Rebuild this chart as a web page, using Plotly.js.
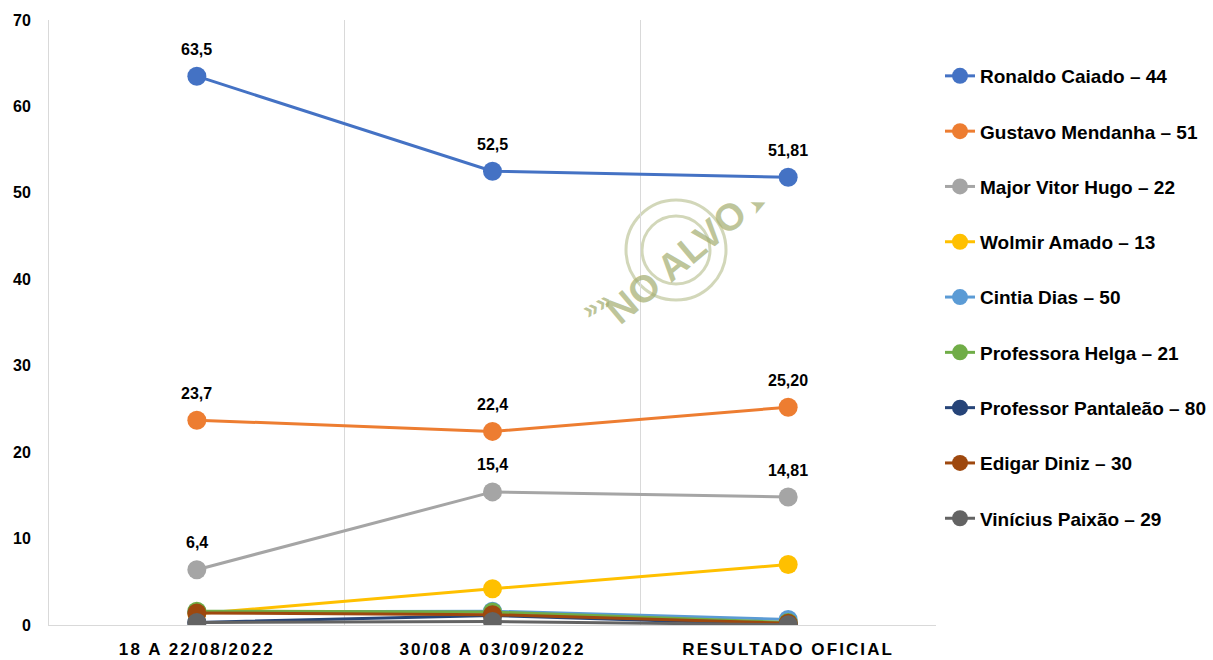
<!DOCTYPE html>
<html>
<head>
<meta charset="utf-8">
<script src="https://cdn.plot.ly/plotly-3.0.1.min.js"></script>
<style>html,body{margin:0;padding:0;background:#fff;}#chart{width:1213px;height:660px;}</style>
</head>
<body>
<div id="chart"></div>
<script>
const categories = ["18 A 22/08/2022", "30/08 A 03/09/2022", "RESULTADO OFICIAL"];
const seriesNames = ["Ronaldo Caiado – 44", "Gustavo Mendanha – 51", "Major Vitor Hugo – 22", "Wolmir Amado – 13", "Cintia Dias – 50", "Professora Helga – 21", "Professor Pantaleão – 80", "Edigar Diniz – 30", "Vinícius Paixão – 29"];
const caiado = [63.5, 52.5, 51.81];
const mendanha = [23.7, 22.4, 25.20];
const vitorHugo = [6.4, 15.4, 14.81];
const wolmir = [1.3, 4.2, 6.99];
const cintia = [1.5, 1.6, 0.65];
const helga = [1.6, 1.5, 0.3];
const pantaleao = [0.3, 1.1, 0.05];
const edigar = [1.4, 1.2, 0.2];
const vinicius = [0.3, 0.4, 0.03];
const caiadoLabels = ["63,5", "52,5", "51,81"];
const mendanhaLabels = ["23,7", "22,4", "25,20"];
const vitorHugoLabels = ["6,4", "15,4", "14,81"];
const colors = ["#4472C4", "#ED7D31", "#A5A5A5", "#FFC000", "#5B9BD5", "#70AD47", "#264478", "#9E480E", "#636363"];

const allSeries = [caiado, mendanha, vitorHugo, wolmir, cintia, helga, pantaleao, edigar, vinicius];
const FONT = "Liberation Sans, Arial, sans-serif";

const traces = allSeries.map((vals, i) => ({
  type: "scatter",
  mode: "lines+markers",
  x: categories,
  y: vals,
  name: seriesNames[i],
  legendgroup: "g" + i,
  line: {color: colors[i], width: 3},
  marker: {color: colors[i], size: 19},
  hoverinfo: "skip"
}));

const annotations = [];
[[caiado, caiadoLabels], [mendanha, mendanhaLabels], [vitorHugo, vitorHugoLabels]].forEach(([vals, labs]) => {
  vals.forEach((v, j) => {
    annotations.push({
      x: categories[j], y: v, xref: "x", yref: "y",
      text: labs[j], showarrow: false, yshift: 27,
      font: {family: FONT, size: 16, color: "#000", weight: "bold"}
    });
  });
});
// watermark (pixel positions converted to paper coords of the plot area)
const PX = x => (x - 49) / 887, PY = y => (625 - y) / 605;
const wm = "rgba(165,175,115,0.72)";
annotations.push({
  xref: "paper", yref: "paper", x: PX(676), y: PY(262), xanchor: "center", yanchor: "middle",
  text: "NO ALVO", showarrow: false, textangle: -40,
  font: {family: FONT, size: 38, color: wm, weight: "bold"}
});
annotations.push({
  xref: "paper", yref: "paper", x: PX(596), y: PY(305), xanchor: "center", yanchor: "middle",
  text: "»»", showarrow: false, textangle: -30,
  font: {family: FONT, size: 26, color: wm, weight: "bold"}
});
annotations.push({
  xref: "paper", yref: "paper", x: PX(758), y: PY(205), xanchor: "center", yanchor: "middle",
  text: "➤", showarrow: false, textangle: -25,
  font: {family: "DejaVu Sans", size: 20, color: wm}
});

const shapes = [50, 34].map(r => ({
  type: "circle", xref: "paper", yref: "paper", layer: "below",
  x0: PX(676 - r), x1: PX(676 + r), y0: PY(250 + r), y1: PY(250 - r),
  line: {color: "rgba(165,175,115,0.5)", width: 3}
}));

const layout = {
  width: 1213, height: 660,
  margin: {l: 49, r: 277, t: 20, b: 35},
  paper_bgcolor: "#fff", plot_bgcolor: "#fff",
  showlegend: true,
  legend: {
    xref: "container", yref: "container",
    x: 940 / 1213, y: 1 - 57 / 660, xanchor: "left", yanchor: "top",
    maxheight: 600,
    font: {family: FONT, size: 19, color: "#000", weight: "bold"},
    tracegroupgap: 27.6, itemwidth: 30, bgcolor: "rgba(0,0,0,0)"
  },
  xaxis: {
    type: "category",
    range: [-0.5, 2.5],
    tickson: "boundaries",
    showgrid: true, gridcolor: "#D9D9D9", gridwidth: 1,
    showline: true, linecolor: "#D9D9D9", linewidth: 1,
    ticks: "", zeroline: false,
    tickfont: {family: FONT, size: 17, color: "#000", weight: "bold"},
    ticklabelstandoff: 9,
    fixedrange: true
  },
  yaxis: {
    range: [0, 70], dtick: 10, tick0: 0,
    showgrid: false, zeroline: false,
    showline: true, linecolor: "#D9D9D9", linewidth: 1,
    ticks: "",
    tickfont: {family: FONT, size: 16, color: "#000", weight: "bold"},
    ticklabelstandoff: 14,
    fixedrange: true
  },
  shapes: shapes,
  annotations: annotations
};

Plotly.newPlot("chart", traces, layout, {displayModeBar: false, staticPlot: true}).then(gd => {
  gd.querySelectorAll(".xtick text").forEach(t => { t.style.letterSpacing = "2.1px"; });
});
</script>
</body>
</html>
